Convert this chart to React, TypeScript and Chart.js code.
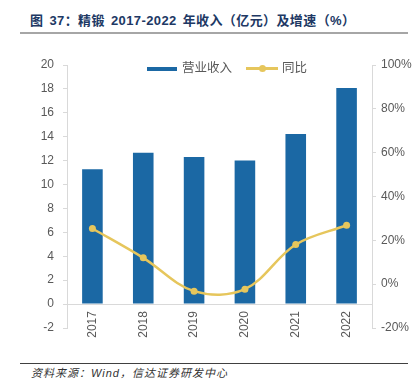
import React, { useEffect, useRef } from "react";
import { Chart, registerables } from "chart.js";

Chart.register(...registerables);

const years = ["2017", "2018", "2019", "2020", "2021", "2022"];
const revenue = [11.27, 12.65, 12.3, 12.02, 14.23, 18.07];
const growth = [25.4, 12.0, -3.2, -2.3, 18.1, 26.9];

const leftTicksMin = -2;
const leftTicksMax = 20;
const rightTicksMin = -20;
const rightTicksMax = 100;

const titleText = "图 37：精锻 2017-2022 年收入（亿元）及增速（%）";
const legendBar = "营业收入";
const legendLine = "同比";
const sourceText = "资料来源：Wind，信达证券研发中心";

const BAR_COLOR = "#1B68A4";
const LINE_COLOR = "#E6C65C";
const AXIS_COLOR = "#D9D9D9";
const TICK_COLOR = "#595959";

export default function App() {
  const ref = useRef<HTMLCanvasElement | null>(null);

  useEffect(() => {
    if (!ref.current) return;
    const chart = new Chart(ref.current, {
      type: "bar",
      data: {
        labels: years,
        datasets: [
          {
            type: "line",
            label: legendLine,
            data: growth,
            yAxisID: "y1",
            borderColor: LINE_COLOR,
            backgroundColor: LINE_COLOR,
            borderWidth: 2.5,
            pointRadius: 3.5,
            pointBackgroundColor: LINE_COLOR,
            pointBorderWidth: 0,
            tension: 0.35,
            order: 0,
          } as any,
          {
            type: "bar",
            label: legendBar,
            data: revenue,
            yAxisID: "y",
            backgroundColor: BAR_COLOR,
            categoryPercentage: 1,
            barPercentage: 0.405,
            order: 1,
          } as any,
        ],
      },
      options: {
        responsive: false,
        animation: false,
        layout: { padding: { top: 25, bottom: 22, left: 0, right: 0 } },
        plugins: { legend: { display: false }, tooltip: { enabled: false } },
        scales: {
          x: {
            type: "category",
            position: { y: 0 } as any,
            grid: { display: true, drawOnChartArea: false, drawTicks: false, color: AXIS_COLOR },
            border: { display: true, color: AXIS_COLOR, width: 1 },
            ticks: {
              minRotation: 90,
              maxRotation: 90,
              padding: 7,
              color: TICK_COLOR,
              font: { family: "'Liberation Sans', Arial, sans-serif", size: 12 },
            },
            afterFit: (s: any) => {
              s.height = 0;
            },
          },
          y: {
            type: "linear",
            position: "left",
            min: leftTicksMin,
            max: leftTicksMax,
            ticks: {
              stepSize: 2,
              padding: 9,
              color: TICK_COLOR,
              font: { family: "'Liberation Sans', Arial, sans-serif", size: 12 },
            },
            grid: { display: true, drawOnChartArea: false, tickLength: 4, color: AXIS_COLOR },
            border: { display: true, color: AXIS_COLOR, width: 1 },
            afterFit: (s: any) => {
              s.width = 67;
            },
          },
          y1: {
            type: "linear",
            position: "right",
            min: rightTicksMin,
            max: rightTicksMax,
            ticks: {
              stepSize: 20,
              padding: 5,
              color: TICK_COLOR,
              font: { family: "'Liberation Sans', Arial, sans-serif", size: 12 },
              callback: (v: any) => v + "%",
            },
            grid: { display: true, drawOnChartArea: false, tickLength: 4, color: AXIS_COLOR },
            border: { display: true, color: AXIS_COLOR, width: 1 },
            afterFit: (s: any) => {
              s.width = 46;
            },
          },
        },
      },
    });
    return () => chart.destroy();
  }, []);

  const cjk = "'Liberation Sans', 'Noto Sans CJK SC', sans-serif";

  return (
    <div
      style={{
        position: "absolute",
        left: 0,
        top: 0,
        width: 418,
        height: 391,
        background: "#fff",
        overflow: "hidden",
        fontFamily: cjk,
      }}
    >
      <div
        style={{
          position: "absolute",
          left: 30,
          top: 12,
          lineHeight: "18px",
          fontSize: 13,
          fontWeight: "bold",
          color: "#203864",
          whiteSpace: "pre",
          letterSpacing: "0.4px",
          wordSpacing: "2px",
        }}
      >
        {titleText}
      </div>
      <div style={{ position: "absolute", left: 20, top: 32, width: 388, height: 2, background: "#A6A6A6" }} />

      <canvas
        ref={ref}
        width={418}
        height={310}
        style={{ position: "absolute", left: 0, top: 40, width: 418, height: 310 }}
      />

      <div style={{ position: "absolute", left: 147, top: 67, width: 30, height: 4, background: BAR_COLOR }} />
      <div
        style={{
          position: "absolute",
          left: 182,
          top: 60,
          lineHeight: "16px",
          fontSize: 12.5,
          color: TICK_COLOR,
          whiteSpace: "nowrap",
        }}
      >
        {legendBar}
      </div>
      <div style={{ position: "absolute", left: 246, top: 67, width: 32, height: 2.5, background: LINE_COLOR }} />
      <div
        style={{
          position: "absolute",
          left: 258.5,
          top: 64.7,
          width: 7,
          height: 7,
          borderRadius: "50%",
          background: LINE_COLOR,
        }}
      />
      <div
        style={{
          position: "absolute",
          left: 282,
          top: 60,
          lineHeight: "16px",
          fontSize: 12.5,
          color: TICK_COLOR,
          whiteSpace: "nowrap",
        }}
      >
        {legendLine}
      </div>

      <div style={{ position: "absolute", left: 20, top: 363, width: 388, height: 1, background: "#404040" }} />
      <div
        style={{
          position: "absolute",
          left: 31,
          top: 366,
          lineHeight: "14px",
          fontSize: 11,
          fontStyle: "italic",
          color: "#333",
          whiteSpace: "nowrap",
          letterSpacing: "1px",
        }}
      >
        {sourceText}
      </div>
    </div>
  );
}
